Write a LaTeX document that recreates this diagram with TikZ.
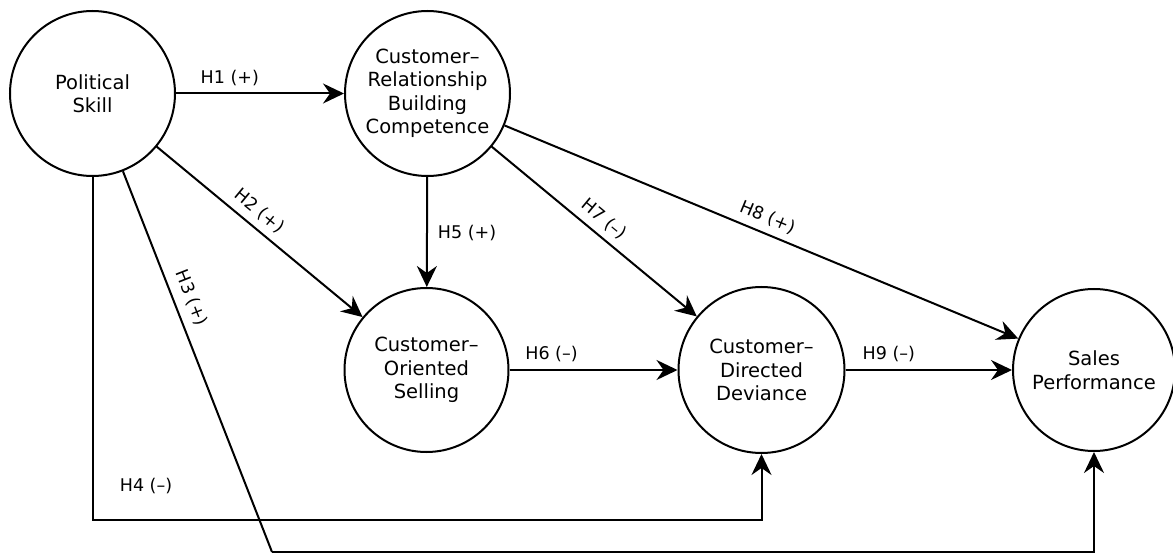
\documentclass[tikz,border=0pt]{standalone}
\usepackage{fontspec}
\setmainfont{DejaVu Sans}
\usetikzlibrary{arrows.meta}
\begin{document}
\begin{tikzpicture}[x=1pt,y=-1pt,
  construct/.style={circle,draw,line width=2pt,minimum size=#1,inner sep=0pt,align=center,
    font=\fontsize{19.5}{23.5}\selectfont},
  construct/.default=165pt,
  link/.style={line width=2pt,-{Stealth[length=21pt,width=20pt,inset=7pt]}},
  plain/.style={line width=2pt},
  hyp/.style={font=\fontsize{17.5}{20}\selectfont,inner sep=2pt}]
\fill[white] (0,0) rectangle (1173,553);
\useasboundingbox (0,0) rectangle (1173,553);
% constructs
\node[construct] (ps) at (92.5,93.5) {Political\\Skill};
\node[construct] (crb) at (427.5,93.5) {Customer–\\Relationship\\Building\\Competence};
\node[construct=164pt] (cos) at (426.5,370) {Customer–\\Oriented\\Selling};
\node[construct=166pt] (cdd) at (761.5,370) {Customer–\\Directed\\Deviance};
\node[construct=162pt] (sp) at (1094,370) {Sales\\Performance};
% helper coordinates
\coordinate (c4) at (761.5,520);
\coordinate (c3a) at (272,552);
\coordinate (c3b) at (1094,552);
% paths
\draw[link] (ps) -- node[hyp,pos=0.32,above=5pt] (l1) {H1 (+)} (crb);
\draw[link] (ps) -- node[hyp,pos=0.45,sloped,above=5pt] (l2) {H2 (+)} (cos);
\draw[plain] (ps) -- node[hyp,pos=0.35,sloped,above=7pt] (l3) {H3 (+)} (c3a);
\draw[link] (c3a) -- (c3b) -- (sp.south);
\draw[link] (ps.south) -- (ps.south |- c4) -- (c4) -- (cdd.south);
\node[hyp] (l4) at (146,486) {H4 (–)};
\draw[link] (crb) -- node[hyp,pos=0.51,right=8pt] (l5) {H5 (+)} (cos);
\draw[link] (cos) -- node[hyp,pos=0.25,above=5pt] (l6) {H6 (–)} (cdd);
\draw[link] (crb) -- node[hyp,pos=0.50,sloped,above=5pt] (l7) {H7 (–)} (cdd);
\draw[link] (crb) -- node[hyp,pos=0.50,sloped,above=5pt] (l8) {H8 (+)} (sp);
\draw[link] (cdd) -- node[hyp,pos=0.26,above=5pt] (l9) {H9 (–)} (sp);
\end{tikzpicture}
\end{document}
